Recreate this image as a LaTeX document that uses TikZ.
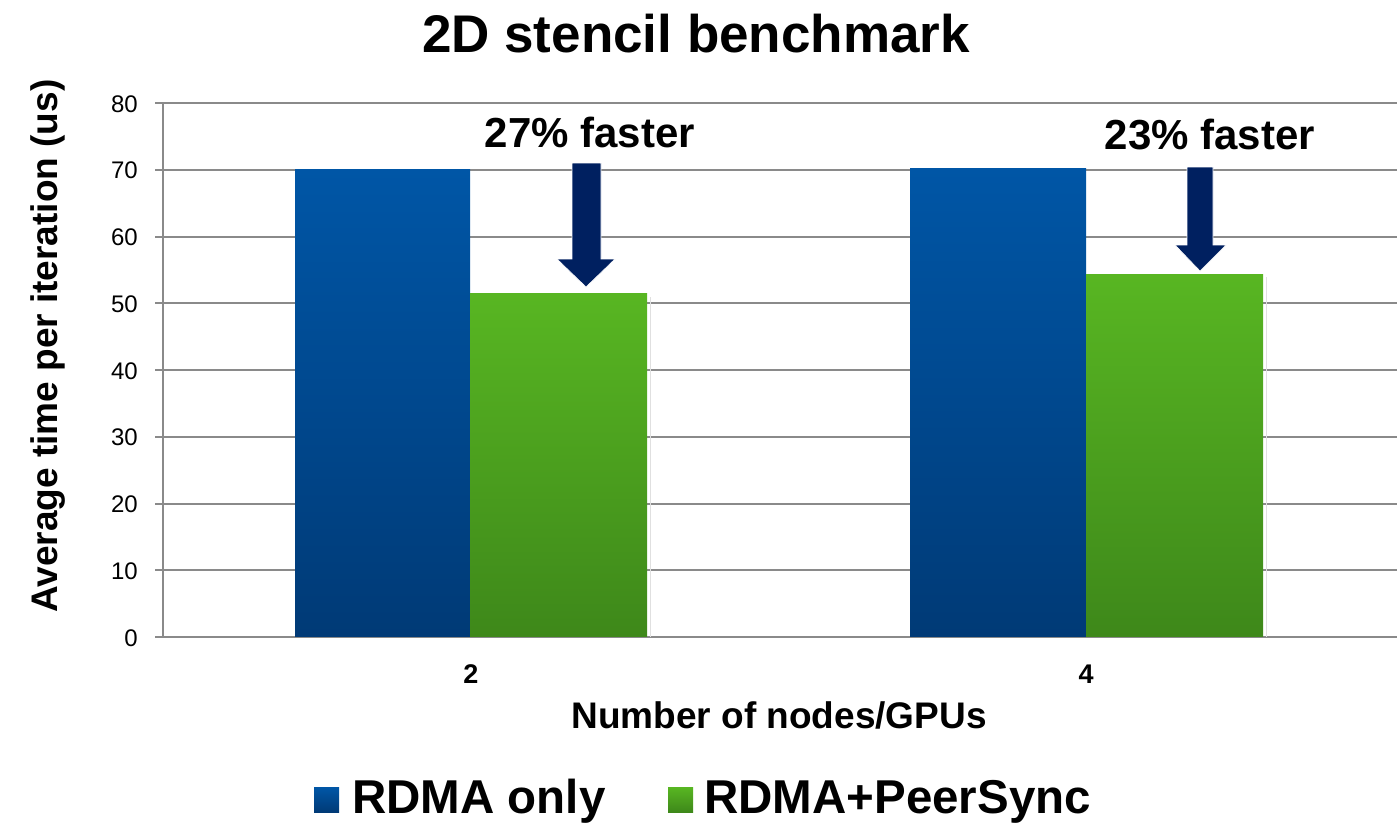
\documentclass[tikz,border=0pt]{standalone}
\usepackage{fontspec}
\setmainfont{Liberation Sans}
\definecolor{gridgray}{RGB}{138,138,138}
\definecolor{bluetop}{RGB}{0,86,166}
\definecolor{bluebot}{RGB}{0,58,118}
\definecolor{greentop}{RGB}{88,182,34}
\definecolor{greenbot}{RGB}{62,136,26}
\definecolor{navy}{RGB}{0,32,96}
\tikzset{
  grid line/.style={draw=gridgray, line width=2pt},
  bluebar/.style={top color=bluetop, bottom color=bluebot, draw=none},
  greenbar/.style={top color=greentop, bottom color=greenbot, draw=none},
  barshadow/.style={fill=black!12, draw=none},
  ticklab/.style={inner sep=0pt, font=\fontsize{24}{28}\selectfont, anchor=base east},
  xticklab/.style={inner sep=0pt, font=\fontsize{27}{30}\selectfont\bfseries, anchor=base},
  callout/.style={inner sep=0pt, font=\fontsize{42}{48}\selectfont\bfseries, anchor=base},
  axtitle/.style={inner sep=0pt, font=\fontsize{37}{42}\selectfont\bfseries},
  legtext/.style={inner sep=0pt, font=\fontsize{47.5}{54}\selectfont\bfseries, anchor=base west},
  downarrow/.style={fill=navy, draw=white, line width=0.6pt},
}
\begin{document}
\begin{tikzpicture}[x=1pt,y=-1pt]
\useasboundingbox (0,0) rectangle (1400,823);
% title
\node[inner sep=0pt, font=\fontsize{53}{60}\selectfont\bfseries, anchor=base] (title) at (696,52) {2D stencil benchmark};
% gridlines and ticks
\foreach \v/\yy in {0/637,10/570.25,20/503.5,30/436.75,40/370,50/303.25,60/236.5,70/169.75,80/103}{
  \draw[grid line] (155,\yy) -- (1397,\yy);
  \node[ticklab] (t\v) at (138,\yy+9) {\v};
}
\draw[grid line] (163,103) -- (163,638);
% bar shadows
\fill[barshadow] (650,297) rectangle (651,637);
\fill[barshadow] (1266,277) rectangle (1267,637);
% bars
\node[bluebar, inner sep=0pt, minimum width=175pt, minimum height=467.25pt, anchor=south west] (b1) at (295,637) {};
\node[greenbar, inner sep=0pt, minimum width=177pt, minimum height=343pt, anchor=south west] (g1) at (470,637) {};
\node[bluebar, inner sep=0pt, minimum width=176pt, minimum height=468.5pt, anchor=south west] (b2) at (910,637) {};
\node[greenbar, inner sep=0pt, minimum width=177pt, minimum height=362pt, anchor=south west] (g2) at (1086,637) {};
% arrows
\draw[downarrow] (572,163) -- (601,163) -- (601,259) -- (615,259) -- (586,287) -- (557,259) -- (572,259) -- cycle;
\draw[downarrow] (1187,167) -- (1213,167) -- (1213,245) -- (1226,245) -- (1200,271) -- (1175,245) -- (1187,245) -- cycle;
% callouts
\node[callout] (c1) at (590,147) {27\% faster};
\node[callout] (c2) at (1210,149) {23\% faster};
% x ticks
\node[xticklab] (x2) at (471,683) {2};
\node[xticklab] (x4) at (1086,683) {4};
% axis titles
\node[axtitle, anchor=base] (xt) at (779,728) {Number of nodes/GPUs};
\node[axtitle, anchor=base west, rotate=90] (yt) at (57,613) {Average time per iteration (us)};
% legend
\node[bluebar, inner sep=0pt, minimum size=25pt, anchor=north west] (lb) at (314,787) {};
\node[legtext] (lbt) at (352,813) {RDMA only};
\node[greenbar, inner sep=0pt, minimum size=25pt, anchor=north west] (lg) at (668,787) {};
\node[legtext] (lgt) at (704,813) {RDMA+PeerSync};
\end{tikzpicture}
\end{document}
